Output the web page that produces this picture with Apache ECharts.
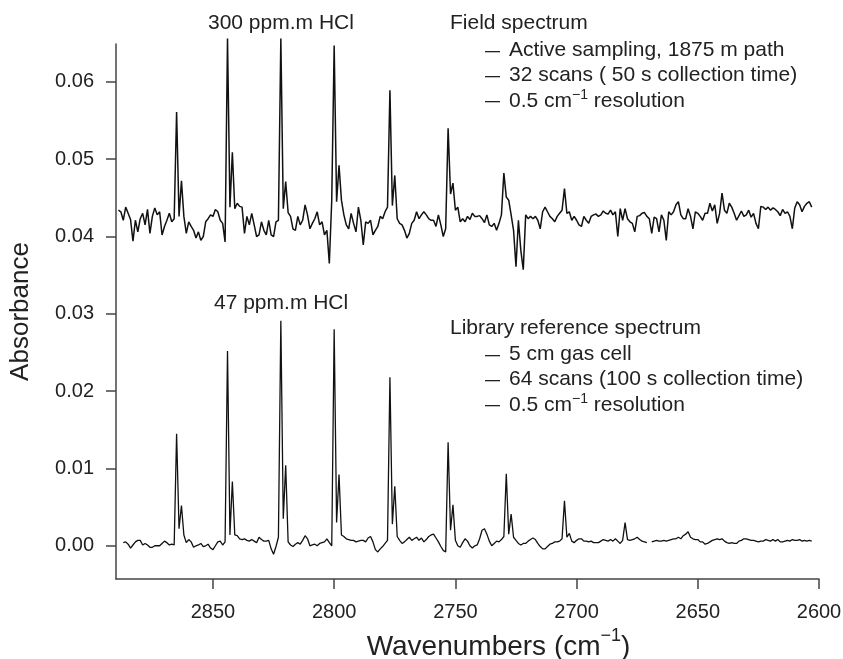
<!DOCTYPE html>
<html>
<head>
<meta charset="utf-8">
<script src="https://cdn.jsdelivr.net/npm/echarts@6/dist/echarts.min.js"></script>
<style>
html, body { margin: 0; padding: 0; background: #fff; }
#chart { width: 843px; height: 659px; }
</style>
</head>
<body>
<div id="chart"></div>
<script>
// wavenumber grid: first point, then 1 cm-1 steps going down
const fieldStart = 2889;
const fieldAbs = [
  0.0434, 0.0432, 0.0421, 0.0438, 0.0430, 0.0422, 0.0394, 0.0421, 0.0406, 0.0423,
  0.0430, 0.0415, 0.0435, 0.0404, 0.0426, 0.0437, 0.0428, 0.0432, 0.0402, 0.0413,
  0.0421, 0.0430, 0.0419, 0.0423, 0.0561, 0.0426, 0.0472, 0.0426, 0.0404, 0.0419,
  0.0413, 0.0408, 0.0398, 0.0406, 0.0395, 0.0400, 0.0419, 0.0423, 0.0428, 0.0426,
  0.0435, 0.0432, 0.0421, 0.0417, 0.0393, 0.0656, 0.0438, 0.0509, 0.0436, 0.0443,
  0.0439, 0.0438, 0.0404, 0.0426, 0.0415, 0.0430, 0.0415, 0.0400, 0.0402, 0.0419,
  0.0408, 0.0402, 0.0421, 0.0402, 0.0400, 0.0419, 0.0421, 0.0656, 0.0436, 0.0471,
  0.0431, 0.0426, 0.0410, 0.0408, 0.0426, 0.0415, 0.0421, 0.0441, 0.0428, 0.0410,
  0.0417, 0.0423, 0.0432, 0.0415, 0.0419, 0.0402, 0.0408, 0.0365, 0.0447, 0.0647,
  0.0445, 0.0492, 0.0447, 0.0428, 0.0415, 0.0410, 0.0430, 0.0417, 0.0406, 0.0438,
  0.0421, 0.0389, 0.0419, 0.0417, 0.0421, 0.0402, 0.0408, 0.0413, 0.0426, 0.0423,
  0.0432, 0.0438, 0.0589, 0.0440, 0.0479, 0.0423, 0.0417, 0.0415, 0.0408, 0.0398,
  0.0404, 0.0417, 0.0421, 0.0432, 0.0423, 0.0428, 0.0432, 0.0428, 0.0423, 0.0421,
  0.0421, 0.0413, 0.0428, 0.0415, 0.0400, 0.0410, 0.0540, 0.0455, 0.0469, 0.0434,
  0.0438, 0.0419, 0.0423, 0.0419, 0.0426, 0.0422, 0.0430, 0.0426, 0.0426, 0.0427,
  0.0423, 0.0418, 0.0428, 0.0415, 0.0413, 0.0417, 0.0408, 0.0417, 0.0428, 0.0482,
  0.0451, 0.0447, 0.0428, 0.0408, 0.0361, 0.0421, 0.0382, 0.0357, 0.0428, 0.0423,
  0.0426, 0.0423, 0.0426, 0.0421, 0.0410, 0.0432, 0.0438, 0.0432, 0.0426, 0.0423,
  0.0419, 0.0426, 0.0430, 0.0434, 0.0462, 0.0430, 0.0432, 0.0421, 0.0426, 0.0421,
  0.0415, 0.0413, 0.0426, 0.0421, 0.0417, 0.0426, 0.0428, 0.0429, 0.0426, 0.0428,
  0.0433, 0.0430, 0.0429, 0.0434, 0.0428, 0.0432, 0.0400, 0.0436, 0.0421, 0.0436,
  0.0423, 0.0419, 0.0417, 0.0406, 0.0426, 0.0427, 0.0430, 0.0431, 0.0426, 0.0423,
  0.0404, 0.0425, 0.0423, 0.0406, 0.0428, 0.0421, 0.0395, 0.0432, 0.0428, 0.0432,
  0.0441, 0.0445, 0.0428, 0.0423, 0.0423, 0.0436, 0.0426, 0.0410, 0.0432, 0.0430,
  0.0426, 0.0421, 0.0430, 0.0430, 0.0443, 0.0433, 0.0441, 0.0417, 0.0430, 0.0456,
  0.0434, 0.0430, 0.0443, 0.0438, 0.0430, 0.0421, 0.0427, 0.0433, 0.0426, 0.0428,
  0.0434, 0.0425, 0.0430, 0.0417, 0.0410, 0.0439, 0.0438, 0.0435, 0.0438, 0.0434,
  0.0437, 0.0435, 0.0432, 0.0427, 0.0435, 0.0430, 0.0432, 0.0426, 0.0410, 0.0437,
  0.0445, 0.0441, 0.0432, 0.0439, 0.0443, 0.0445, 0.0438
];

const libStart = 2887;
const libraryAbs = [
  0.0004, 0.0005, 0.0002, -0.0003, 0.0001, 0.0005, 0.0007, 0.0007,
  0.0001, 0.0003, 0.0001, -0.0002, -0.0002, 0.0000, 0.0000, 0.0000, 0.0003, 0.0006,
  0.0004, 0.0001, 0.0002, 0.0001, 0.0145, 0.0022, 0.0052, 0.0014, 0.0004, 0.0008,
  0.0005, -0.0002, 0.0000, 0.0001, 0.0003, -0.0001, 0.0000, 0.0002, -0.0003, -0.0005,
  0.0000, 0.0005, 0.0006, 0.0001, 0.0005, 0.0252, 0.0014, 0.0083, 0.0014, 0.0013,
  0.0009, 0.0008, 0.0009, 0.0007, 0.0006, 0.0008, 0.0006, 0.0004, 0.0011, 0.0008,
  0.0006, 0.0006, 0.0007, -0.0004, -0.0011, -0.0001, 0.0011, 0.0291, 0.0035, 0.0104,
  0.0005, 0.0001, -0.0001, 0.0002, 0.0004, 0.0002, 0.0007, 0.0013, 0.0009, 0.0000,
  0.0001, 0.0002, 0.0000, 0.0003, 0.0004, 0.0005, 0.0009, 0.0004, 0.0000, 0.0280,
  0.0030, 0.0092, 0.0014, 0.0012, 0.0009, 0.0008, 0.0007, 0.0007, 0.0005, 0.0006,
  0.0007, 0.0007, 0.0005, 0.0010, 0.0012, 0.0005, -0.0005, -0.0008, -0.0004, -0.0001,
  0.0003, 0.0007, 0.0218, 0.0028, 0.0077, 0.0012, 0.0007, 0.0003, 0.0005, 0.0008,
  0.0011, 0.0007, 0.0009, 0.0011, 0.0007, 0.0010, 0.0005, 0.0008, 0.0012, 0.0014,
  0.0015, 0.0010, 0.0005, -0.0001, -0.0006, -0.0008, 0.0134, 0.0020, 0.0053, 0.0007,
  0.0000, -0.0002, 0.0004, 0.0009, 0.0006, 0.0000, -0.0003, 0.0000, 0.0001, 0.0009,
  0.0020, 0.0022, 0.0015, 0.0006, 0.0000, 0.0003, 0.0006, 0.0005, 0.0008, 0.0012,
  0.0093, 0.0015, 0.0041, 0.0011, 0.0007, 0.0003, 0.0001, 0.0003, 0.0003, 0.0006,
  0.0008, 0.0010, 0.0008, 0.0003, -0.0001, -0.0004, -0.0004, -0.0001, 0.0002, 0.0003,
  0.0005, 0.0005, 0.0006, 0.0009, 0.0058, 0.0011, 0.0016, 0.0006, 0.0004, 0.0007,
  0.0009, 0.0009, 0.0006, 0.0006, 0.0005, 0.0006, 0.0004, 0.0004, 0.0004, 0.0006,
  0.0008, 0.0007, 0.0006, 0.0008, 0.0006, 0.0009, 0.0006, 0.0003, 0.0007, 0.0030,
  0.0008, 0.0007, 0.0008, 0.0009, 0.0011, 0.0008, 0.0006, 0.0005, 0.0004, null,
  0.0005, 0.0006, 0.0007, 0.0006, 0.0006, 0.0007, 0.0006, 0.0007, 0.0008, 0.0009,
  0.0009, 0.0011, 0.0009, 0.0013, 0.0015, 0.0018, 0.0011, 0.0009, 0.0008, 0.0008,
  0.0005, 0.0005, 0.0002, 0.0003, 0.0005, 0.0007, 0.0008, 0.0009, 0.0008, 0.0009,
  0.0006, 0.0004, 0.0003, 0.0004, 0.0003, 0.0003, 0.0006, 0.0007, 0.0009, 0.0009,
  0.0008, 0.0007, 0.0007, 0.0006, 0.0005, 0.0006, 0.0006, 0.0008, 0.0007, 0.0006,
  0.0008, 0.0006, 0.0008, 0.0005, 0.0005, 0.0006, 0.0007, 0.0006, 0.0008, 0.0007,
  0.0007, 0.0008, 0.0006, 0.0007, 0.0006, 0.0007, 0.0006
];

const xTicks = [2850, 2800, 2750, 2700, 2650, 2600];
const yTicks = [0, 0.01, 0.02, 0.03, 0.04, 0.05, 0.06];

const FONT = "'Liberation Sans', Arial, sans-serif";

function toPairs(start, values) {
  return values.map((v, i) => [start - i, v]);
}

const chart = echarts.init(document.getElementById("chart"));

const axisCol = "#444";

function note(x, y, txt) {
  return {
    type: "text", left: x, top: y,
    style: { text: txt, font: "21px " + FONT, fill: "#222" }
  };
}
function dash(x, y) {
  return {
    type: "rect", shape: { x: x, y: y, width: 15, height: 1.3 },
    style: { fill: "#222" }
  };
}
function resolution(x, y) {
  return {
    type: "text", left: x, top: y,
    style: {
      text: "{n|0.5 cm}{s|\u22121}{n| resolution}",
      rich: {
        n: { fontSize: 21, fontFamily: FONT, fill: "#222", color: "#222", verticalAlign: "bottom", lineHeight: 24 },
        s: { fontSize: 14, fontFamily: FONT, fill: "#222", color: "#222", verticalAlign: "top", lineHeight: 24 }
      }
    }
  };
}

chart.setOption({
  animation: false,
  backgroundColor: "#fff",
  grid: { left: 116, right: 24, top: 44, bottom: 80, outerBoundsMode: "none", containLabel: false },
  xAxis: {
    type: "value",
    min: 2600,
    max: 2890,
    inverse: true,
    name: "{t|Wavenumbers (cm}{s|\u22121}{t|)}",
    nameLocation: "middle",
    nameGap: 36,
    nameTextStyle: {
      padding: [0, 0, 0, 62],
      rich: {
        t: { fontSize: 28, fontFamily: FONT, color: "#222", verticalAlign: "bottom", lineHeight: 34 },
        s: { fontSize: 18, fontFamily: FONT, color: "#222", verticalAlign: "top", lineHeight: 34 }
      }
    },
    axisLine: { onZero: false, lineStyle: { color: axisCol, width: 1.5 } },
    axisTick: { customValues: xTicks, length: 10, lineStyle: { color: axisCol, width: 1.5 } },
    axisLabel: {
      customValues: xTicks, margin: 23, fontSize: 20, fontFamily: FONT, color: "#222",
      formatter: v => String(v)
    },
    splitLine: { show: false }
  },
  yAxis: {
    type: "value",
    min: -0.0043,
    max: 0.0649,
    name: "Absorbance",
    nameLocation: "middle",
    nameGap: 82,
    nameTextStyle: { fontSize: 26, fontFamily: FONT, color: "#222" },
    axisLine: { show: true, onZero: false, lineStyle: { color: axisCol, width: 1.5 } },
    axisTick: { show: true, customValues: yTicks, length: 10, lineStyle: { color: axisCol, width: 1.5 } },
    axisLabel: {
      customValues: yTicks, margin: 22, fontSize: 20, fontFamily: FONT, color: "#222",
      formatter: v => v.toFixed(2)
    },
    splitLine: { show: false }
  },
  series: [
    {
      name: "Field spectrum",
      type: "line",
      data: toPairs(fieldStart, fieldAbs),
      showSymbol: false,
      symbol: "none",
      clip: false,
      lineStyle: { color: "#111", width: 1.5 }
    },
    {
      name: "Library reference spectrum",
      type: "line",
      data: toPairs(libStart, libraryAbs),
      showSymbol: false,
      symbol: "none",
      clip: false,
      connectNulls: false,
      lineStyle: { color: "#111", width: 1.3 }
    }
  ],
  graphic: [
    note(208, 13, "300 ppm.m HCl"),
    note(450, 13, "Field spectrum"),
    dash(485, 51), note(509, 40, "Active sampling, 1875 m path"),
    dash(485, 76), note(509, 65, "32 scans ( 50 s collection time)"),
    dash(485, 101), resolution(509, 88),
    note(214, 293, "47 ppm.m HCl"),
    note(450, 318, "Library reference spectrum"),
    dash(485, 355), note(509, 344, "5 cm gas cell"),
    dash(485, 380), note(509, 369, "64 scans (100 s collection time)"),
    dash(485, 405), resolution(509, 392)
  ]
});
</script>
</body>
</html>
